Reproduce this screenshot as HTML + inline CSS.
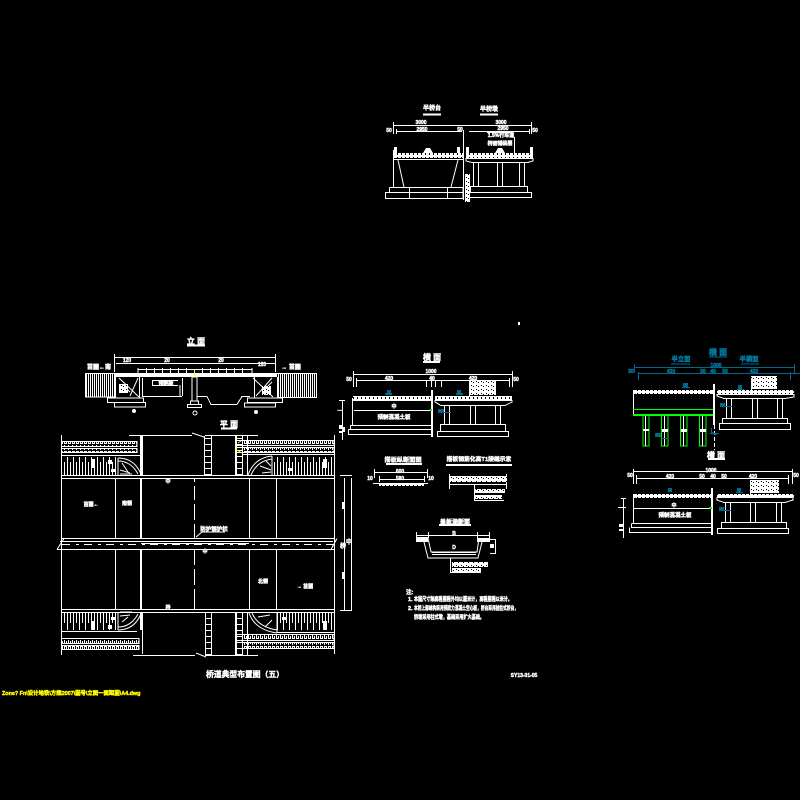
<!DOCTYPE html>
<html><head><meta charset="utf-8"><title>桥梁典型布置图（五）</title>
<style>
html,body{margin:0;padding:0;background:#000}
svg{display:block}
text{font-family:"Liberation Sans","Noto Sans CJK SC",sans-serif;font-weight:700;fill:#fff;stroke:#fff;stroke-width:.4;text-anchor:middle}
.l{fill:none;stroke:#fff;stroke-width:1;shape-rendering:crispEdges}
.c{fill:none;stroke:#fff;stroke-width:1}
.h{stroke-width:2}
.b{fill:none;stroke:#00688b;stroke-width:1;shape-rendering:crispEdges}
.g{fill:none;stroke:#0f0;stroke-width:1;shape-rendering:crispEdges}
.y{fill:none;stroke:#ff0;stroke-width:1}
text.blue{fill:#00789e;stroke:#00789e}
text.yt{fill:#ff0;stroke:#ff0;text-anchor:start}
text.s{text-anchor:start}
</style></head><body>
<svg width="800" height="800" viewBox="0 0 800 800" xmlns="http://www.w3.org/2000/svg">
<defs>
<pattern id="deck" width="4" height="4" patternUnits="userSpaceOnUse"><rect width="4" height="4" fill="#fff"/><rect x="1" y="1" width="1" height="2" fill="#000"/></pattern>
<pattern id="mA" width="4" height="5" patternUnits="userSpaceOnUse"><path d="M.5 0V3.5H2.5V1" stroke="#fff" fill="none" shape-rendering="crispEdges"/></pattern>
<pattern id="mB" width="4" height="5" patternUnits="userSpaceOnUse"><path d="M.5 5V1.5H2.5V4" stroke="#fff" fill="none" shape-rendering="crispEdges"/></pattern>
<pattern id="rail" width="6" height="19" patternUnits="userSpaceOnUse"><path d="M1.5 0V19M4.5 6V19" stroke="#fff" fill="none" shape-rendering="crispEdges"/></pattern>
<pattern id="railb" width="6" height="18" patternUnits="userSpaceOnUse"><path d="M1.5 0V18M4.5 0V11" stroke="#fff" fill="none" shape-rendering="crispEdges"/></pattern>
<pattern id="wing" width="2" height="10" patternUnits="userSpaceOnUse"><rect width="1" height="10" fill="#fff"/></pattern>
<pattern id="lad" width="8" height="6" patternUnits="userSpaceOnUse"><path d="M0 .5H8M4.5 0V6" stroke="#fff" fill="none" shape-rendering="crispEdges"/></pattern>
<pattern id="speck" width="5" height="4" patternUnits="userSpaceOnUse"><rect width="5" height="4" fill="#fff"/><rect x="1" y="1" width="1" height="1" fill="#000"/><rect x="3" y="2" width="1" height="1" fill="#000"/></pattern>
</defs>
<rect width="800" height="800" fill="#000"/>

<!-- TOP SECTION -->
<text x="432" y="110" font-size="6">半桥台</text>
<text x="489" y="111" font-size="6">半桥墩</text>
<path class="l h" d="M423 114.500H441M480 114.500H498"/>
<path class="l" d="M393.500 122V134M531.500 122V134M394 125.500H531M396.500 129V134M529.500 129V134M396 131.500H462M469 131.500H529"/>
<text x="421" y="124" font-size="5">3000</text><text x="501" y="124" font-size="5">3000</text>
<text x="422" y="131" font-size="5">2950</text><text x="503" y="130" font-size="5">2950</text>
<text x="389" y="132" font-size="5">50</text><text x="535" y="132" font-size="5">50</text>
<text x="460" y="131" font-size="5">50</text>
<rect x="394" y="153" width="69" height="5" fill="url(#deck)"/>
<rect x="466" y="153" width="67" height="5" fill="url(#deck)"/>
<path class="l" d="M393.500 150V187M394 159.500H463M463.500 130V200"/>
<path class="c" d="M398 160L404 187M458 160L451 187"/>
<path class="l" d="M389.500 187.500H463V192M389.500 187.500V192M385.500 192.500H463V198.500H385.500ZM409.500 187V198M447.500 187V198"/>
<path class="l" d="M466 158.500H533V161L528 162.500H472L466 161Z"/>
<path class="l" d="M473.500 162V187M478.500 162V187M497.500 162V187M502.500 162V187M519.500 162V187M524.500 162V187"/>
<path class="l" d="M470.500 186.500H527.500V192.500H470.500ZM467.500 192.500H531.500V197.500H467.500Z"/>
<rect x="465" y="174" width="5" height="28" fill="url(#speck)"/>
<rect x="394" y="147" width="3" height="6" fill="#fff"/><rect x="457" y="147" width="3" height="6" fill="#fff"/>
<rect x="466" y="147" width="3" height="6" fill="#fff"/><rect x="530" y="147" width="3" height="6" fill="#fff"/>
<path fill="#fff" d="M423 153L426 148H430L433 153ZM495 153L498 148H502L505 153Z"/>
<rect x="487" y="132" width="26" height="1" fill="#fff"/>
<text x="501" y="137" font-size="5">1.5%行车道</text>
<text x="500" y="145" font-size="5">桥面铺装层</text>
<path class="l" d="M514.500 137V153"/>

<!-- ELEVATION -->
<text x="196" y="344" font-size="8">立 面</text>
<path class="l h" d="M187 345.500H205"/>
<path class="l" d="M114.500 354V372M275.500 354V372M114 357.500H276M116 363.500H275"/>
<text x="127" y="362" font-size="5">120</text><text x="167" y="362" font-size="5">20</text><text x="221" y="362" font-size="5">20</text><text x="262" y="366" font-size="5">120</text>
<text x="99" y="369" font-size="6">苗圃←南</text><text x="291" y="369" font-size="6">→ 苗圃</text>
<rect x="85" y="373" width="30" height="24" fill="url(#wing)"/>
<rect x="277" y="373" width="40" height="24" fill="url(#wing)"/>
<path class="l" d="M85.500 373.500H115V397H85.500ZM277 373.500H316.500V397.500H277"/>
<rect x="115" y="373" width="162" height="4" fill="#fff"/>
<path class="l" d="M138 369.500H252M138 368V373M252 368V373"/>
<path class="l" d="M146.500 368V373M154.500 368V373M162.500 368V373M170.500 368V373M178.500 368V373M186.500 368V373M202.500 368V373M210.500 368V373M218.500 368V373M226.500 368V373M234.500 368V373M242.500 368V373"/>
<path class="y" d="M194.500 370V377" stroke-width="2"/>
<path class="l" d="M115.500 377V398M139.500 377V398M254.500 377V398M277.500 377V398"/>
<path class="c" d="M119 378L139 397M138 378L130 396M253 378L273 397M272 378L256 396M122 384L130 392M262 392L272 382"/>
<rect x="119" y="384" width="9" height="9" fill="url(#speck)"/><rect x="262" y="386" width="9" height="9" fill="url(#speck)"/>
<path class="l" d="M107.500 398H143.500V402.500H107.500ZM114.500 402.500H145.500V407H114.500ZM247.500 398H282.500V402.500H247.500ZM244.500 403H275.500V407H244.500Z"/>
<path class="l" d="M142.500 378V396M142 396.500H182M182.500 378V396M152 380.500H178M152 385.500H178M152.500 381V385M180 385V396"/>
<text x="166" y="385" font-size="5">预制板</text>
<rect x="192" y="377" width="5" height="24" fill="none" stroke="#fff"/>
<path class="l" d="M190.500 401V404.500H198.500V401ZM187.500 404.500H201.500V407.500H187.500Z"/>
<path class="l" d="M197 396.500H207L211 404.500H237L242 396.500H250"/>
<circle class="c" cx="195" cy="413" r="2"/><circle cx="134" cy="411" r="2" fill="#fff"/><circle cx="256" cy="412" r="2" fill="#fff"/>

<!-- PLAN -->
<text x="229" y="427" font-size="8">平 面</text>
<path class="l h" d="M221 428.500H237"/>
<path class="l" d="M61.500 435V655M334.500 435V654M129 435.500H192M205 435.500H258"/>
<path class="l" d="M61 475.500H334M61 478.500H334M61 538.500H334M61 549.500H334M61 609.500H334M61 612.500H334"/>
<path class="l" d="M115.500 478V538M115.500 549V609M249.500 478V538M249.500 549V609M276.500 478V538M276.500 549V609"/>
<path class="l h" d="M141 435V475M141 478V538M141 549V609M141 612V630"/>
<path class="l" d="M194.500 478V482M194.500 486V500M194.500 504V520M194.500 524V538M194.500 549V565M194.500 569V585M194.500 589V609"/>
<path class="l" d="M142.500 436V475M142.500 612V654M247.500 436V475M247.500 612V655"/>
<path class="l" d="M64 538.500L57 549.500M337 538.500L331 549.500"/>
<path class="l" d="M60 541.500H333M57 549.500H61"/>
<path stroke="#fff" fill="none" stroke-dasharray="8 6 3 5" d="M62 544.500H334" shape-rendering="crispEdges"/>
<path class="l" d="M141 543.500H249"/>
<path class="c" d="M196 537L202 532H225"/>
<text x="214" y="531" font-size="5.500">防护钢护栏</text>
<text x="205" y="553" font-size="5">中</text>
<text x="91" y="506" font-size="5">苗圃←</text><text x="127" y="505" font-size="5">南侧</text>
<text x="263" y="583" font-size="5">北侧</text><text x="305" y="588" font-size="5">→ 苗圃</text>
<text x="168" y="609" font-size="5">桥</text><text x="168" y="483" font-size="5">中</text>
<rect x="62" y="441" width="75" height="5" fill="url(#mA)"/>
<rect x="62" y="448" width="75" height="5" fill="url(#mB)"/>
<path class="l" d="M62 441.500H137V446.500H62M62 448.500H137V452.500H62M61 455.500H141"/>
<rect x="62" y="457" width="56" height="18" fill="url(#rail)"/>
<path class="c" d="M118 458Q134 458 141 474M118 461Q131 461 138 474M118 458V475"/>
<path class="c" d="M120 470L130 473M122 463L128 472M120 474H132"/>
<rect x="91" y="459" width="4" height="9" fill="#fff"/><rect x="108" y="460" width="4" height="4" fill="#fff"/><rect x="111" y="469" width="5" height="3" fill="#fff"/>
<rect x="204" y="436" width="8" height="39" fill="url(#lad)"/>
<path class="l" d="M204.500 436V475M211.500 436V475M235.500 436V475M242.500 436V475"/>
<rect x="235" y="436" width="8" height="39" fill="url(#lad)"/>
<path class="c" d="M192 433L204 437"/>
<rect x="243" y="440" width="91" height="5" fill="url(#mA)"/>
<rect x="243" y="447" width="91" height="5" fill="url(#mB)"/>
<path class="l" d="M235 440.500H334V445.500H235M235 447.500H334V452.500H235M242 454.500H334"/>
<path class="y" d="M235 449L242 453M238 443L241 441" stroke-width="1.500"/>
<rect x="272" y="457" width="62" height="18" fill="url(#rail)"/>
<path class="c" d="M248 475Q254 458 272 456M251 475Q257 461 272 459M272 456V475"/>
<path class="c" d="M271 470L260 466M271 472L262 473M271 466L266 461"/>
<rect x="323" y="459" width="4" height="9" fill="#fff"/><rect x="288" y="468" width="4" height="3" fill="#fff"/>
<rect x="62" y="613" width="56" height="17" fill="url(#railb)"/>
<path class="l" d="M61 631.500H103M103 631.500H137"/>
<rect x="62" y="638" width="77" height="5" fill="url(#mA)"/>
<rect x="62" y="645" width="77" height="5" fill="url(#mB)"/>
<path class="l" d="M62 638.500H139V643.500H62M62 645.500H139V649.500H62"/>
<path class="c" d="M118 630Q134 630 141 614M118 627Q131 627 138 614M118 613V630"/>
<path class="c" d="M120 616L130 615M122 622L128 617M120 612H132"/>
<rect x="91" y="621" width="4" height="9" fill="#fff"/><rect x="108" y="625" width="4" height="4" fill="#fff"/><rect x="111" y="617" width="5" height="3" fill="#fff"/>
<rect x="205" y="613" width="7" height="42" fill="url(#lad)"/>
<rect x="235" y="613" width="8" height="42" fill="url(#lad)"/>
<path class="l" d="M205.500 613V655M211.500 613V655M235.500 613V655M242.500 613V655M133 655.500H195M205 655.500H258"/>
<path class="c" d="M196 653L206 657"/>
<rect x="277" y="613" width="57" height="17" fill="url(#railb)"/>
<path class="l" d="M277 632.500H334"/>
<rect x="243" y="635" width="91" height="5" fill="url(#mA)"/>
<rect x="243" y="643" width="91" height="5" fill="url(#mB)"/>
<path class="l" d="M235 634.500H334V640.500H235M235 642.500H334V648.500H235"/>
<path class="c" d="M249 613Q255 630 277 633M252 613Q258 627 277 630M277 613V633"/>
<path class="c" d="M270 615L258 617M272 620L265 627"/>
<rect x="323" y="621" width="4" height="9" fill="#fff"/><rect x="282" y="617" width="4" height="3" fill="#fff"/>
<path class="l" d="M344.500 478V611M351.500 478V611M340 475.500H352M340 610.500H352M342.500 400V440"/>
<text x="343" y="548" font-size="6">桥</text><text x="349" y="544" font-size="6">中</text>
<rect x="342" y="502" width="3" height="7" fill="#fff"/><rect x="342" y="572" width="3" height="7" fill="#fff"/>
<rect x="343" y="427" width="2" height="5" fill="#fff"/><text x="340" y="412" font-size="5">—</text>
<text x="245" y="677" font-size="7.800" stroke-width=".5">桥道典型布置图（五）</text>
<text x="524" y="677" font-size="5">SY13-01-05</text>
<text class="yt" x="2" y="695" font-size="5.400">Zone? Fn\设计地铁\方案2007\图号\立面一面距图\A4.dwg</text>
<rect x="518" y="322" width="2" height="3" fill="#fff"/>

<!-- SECTION MID -->
<text x="432" y="360" font-size="8">横 面</text>
<path class="l h" d="M423 362H440"/>
<path class="l" d="M353.500 371V387M512.500 371V387M353 374.500H513M356.500 378V387M509.500 378V387M356 380.500H509"/>
<text x="431" y="373" font-size="5">1000</text><text x="389" y="380" font-size="5">420</text><text x="473" y="380" font-size="5">420</text><text x="432" y="380" font-size="5">40</text>
<text x="349" y="381" font-size="5">50</text><text x="516" y="381" font-size="5">50</text>
<path class="l" d="M426.500 381V387M435.500 381V387M441.500 381V387M431.500 381V387"/>
<rect x="353" y="396" width="79" height="5" fill="url(#deck)"/>
<rect x="435" y="396" width="77" height="4" fill="url(#deck)"/>
<path class="l" d="M352.500 398V426M354 410.500H431M350.500 425V429M350 425.500H432M348.500 429.500H432M348.500 429.500V434.500H432"/>
<path class="l h" d="M432 390V437"/>
<path class="l" d="M435 400.500H512V402L505 405.500H441L435 402Z"/>
<path class="l" d="M444.500 405V424M449.500 405V424M470.500 405V424M475.500 405V424M495.500 405V424M500.500 405V424"/>
<path class="l" d="M440.500 424.500H505.500V431.500H440.500ZM437.500 431.500H508.500V436.500H437.500Z"/>
<rect x="430" y="409" width="2" height="2" fill="#0f0"/>
<path fill="#00688b" d="M387 390H391V393H392V395H385V393H387ZM457 390H461V393H463V395H456V393H457ZM438 409H444V413H438Z"/>
<path class="b" d="M444 412.500H451"/>
<text x="394" y="419" font-size="5.500">预制混凝土板</text><text x="394" y="408" font-size="5">中</text>
<rect x="469" y="380" width="27" height="15" fill="url(#speck)"/>
<path class="l" d="M469.500 386V396"/>
<path class="l" d="M342.500 400V440M339 400.500H345"/>
<rect x="339" y="425" width="4" height="4" fill="#fff"/><rect x="339" y="431" width="4" height="2" fill="#fff"/>
<text x="403" y="462" font-size="6.200" stroke-width=".6">搭板纵断面图</text>
<path class="l h" d="M386 464H422"/>
<text x="479" y="461" font-size="5.800" stroke-width=".6">搭板钢筋化高T1接缝示意</text>
<path class="l h" d="M446 465H512"/>
<path class="l" d="M374.500 469V478M427.500 469V478M374 472.500H428M379.500 476V482M424.500 476V482M379 479.500H424M373 483.500H428"/>
<rect x="379" y="484" width="45" height="2" fill="url(#deck)"/>
<text x="400" y="473" font-size="5">600</text><text x="400" y="480" font-size="5">580</text><text x="370" y="480" font-size="5">10</text><text x="431" y="480" font-size="5">10</text>
<path class="l" d="M449.500 474V489M506.500 474V489M449 476.500H507M449 484.500H507"/>
<rect x="449" y="477" width="58" height="5" fill="url(#speck)"/>
<path class="l" d="M474.500 484V500M474 500.500H504"/>
<rect x="475" y="489" width="30" height="4" fill="url(#speck)"/><rect x="475" y="495" width="27" height="4" fill="url(#speck)"/>

<!-- CHANNEL -->
<text x="455" y="524" font-size="6" stroke-width=".5">盖板涵断面</text>
<path class="l h" d="M439 525H471"/>
<path class="l" d="M416 535.500H489M416.500 532V542M489.500 532V542M428.500 532V538M477.500 532V538"/>
<rect x="416" y="537" width="12" height="5" fill="#fff"/><rect x="477" y="538" width="13" height="4" fill="#fff"/>
<path class="c" d="M424 542L428 558H478L482 542" stroke-width="2"/>
<path class="c" d="M428 538L431 552H477L479 538"/>
<path class="l" d="M432 552.500H476M432 554.500H476"/>
<text x="454" y="535" font-size="5">B</text><text x="454" y="549" font-size="5">D</text>
<path class="l" d="M450.500 558V573M450 572.500H481M490 539.500H496M495.500 539V553M490 553.500H496"/>
<rect x="490" y="544" width="4" height="4" fill="#fff"/>
<rect x="452" y="562" width="36" height="5" fill="url(#speck)"/><rect x="452" y="568" width="29" height="4" fill="url(#speck)"/>

<!-- NOTES -->
<text class="s" x="406" y="594" font-size="5.500">注:</text>
<text class="s" x="408" y="601" font-size="5.500">1.</text>
<text class="s" x="414" y="601" font-size="5.500" textLength="98" lengthAdjust="spacingAndGlyphs" stroke-width=".6">本图尺寸除高程里程外均以厘米计，高程里程以米计。</text>
<text class="s" x="408" y="610" font-size="5.500">2.</text>
<text class="s" x="414" y="610" font-size="5.500" textLength="104" lengthAdjust="spacingAndGlyphs" stroke-width=".6">本桥上部结构采用预应力混凝土空心板，桥台采用桩柱式桥台，</text>
<text class="s" x="414" y="619" font-size="5.500" textLength="70" lengthAdjust="spacingAndGlyphs" stroke-width=".6">桥墩采用柱式墩，基础采用扩大基础。</text>

<!-- RIGHT -->
<text class="blue" x="718" y="355" font-size="8">横 面</text>
<text class="blue" x="681" y="361" font-size="6.300">半立面</text>
<text class="blue" x="749" y="361" font-size="6.300">半横面</text>
<path class="b h" d="M709 357H727M671 364H690M741 364H759"/>
<path class="b" d="M634.500 364V373M794.500 364V373M634 367.500H795M638.500 372V380M790.500 372V380M638 373.500H800"/>
<text class="blue" x="716" y="367" font-size="5">1000</text><text class="blue" x="671" y="373" font-size="5">420</text><text class="blue" x="703" y="373" font-size="5">50</text><text class="blue" x="713" y="373" font-size="5">40</text><text class="blue" x="725" y="373" font-size="5">50</text><text class="blue" x="754" y="373" font-size="5">420</text><text class="blue" x="631" y="373" font-size="5">50</text>
<rect x="634" y="390" width="80" height="4" fill="url(#deck)"/>
<rect x="717" y="390" width="77" height="4" fill="url(#deck)"/>
<path class="l" d="M633.500 390V415"/>
<path class="g" d="M633 409.500H714"/>
<rect x="633" y="414" width="81" height="2" fill="#0f0"/>
<path class="g h" d="M643 415V446H649V415M661.500 415V446H668V415M680.500 415V446H687V415M699.500 415V446H706V415"/>
<path class="l" d="M645.500 416V446M664.500 416V446M683.500 416V446M702.500 416V446"/>
<rect x="643" y="429" width="6" height="2" fill="#fff"/><rect x="662" y="429" width="6" height="3" fill="#fff"/><rect x="681" y="429" width="6" height="3" fill="#fff"/><rect x="700" y="429" width="6" height="3" fill="#fff"/>
<path class="l h" d="M714 384V425"/>
<path stroke="#fff" fill="none" stroke-dasharray="4 2" d="M714.500 425V450" shape-rendering="crispEdges"/>
<path class="l" d="M717 394.500H794V397L785 398.500H724L717 396Z"/>
<path class="l" d="M726.500 398V418M731.500 398V418M752.500 398V418M757.500 398V418M777.500 398V418M782.500 398V418"/>
<path class="l" d="M722.500 418.500H787.500V423.500H722.500ZM719.500 423.500H790.500V429.500H719.500Z"/>
<rect x="751" y="376" width="26" height="13" fill="url(#speck)"/>
<path class="l" d="M751.500 379V390"/>
<path fill="#00688b" d="M683 383H688V387H690V388H682V387H683ZM738 385H742V389H744V390H737V389H738ZM720 403H725V407H720ZM655 433H661V437H655ZM711 428H712V432L716 433H720L716 435L711 434H708L711 433Z"/>
<path class="b" d="M661 438.500H668M725 406.500H732"/>
<text x="716" y="458" font-size="8">横 面</text>
<path class="l h" d="M708 459H725"/>
<path class="l" d="M633.500 469V484M792.500 469V484M634 471.500H793M636.500 475V484M788.500 475V484M636 478.500H788"/>
<text x="711" y="472" font-size="5">1000</text><text x="670" y="478" font-size="5">420</text><text x="702" y="478" font-size="5">50</text><text x="713" y="478" font-size="5">40</text><text x="724" y="478" font-size="5">50</text><text x="753" y="478" font-size="5">420</text><text x="630" y="477" font-size="5">50</text><text x="796" y="477" font-size="5">50</text>
<rect x="634" y="494" width="79" height="4" fill="url(#deck)"/>
<rect x="717" y="494" width="77" height="4" fill="url(#deck)"/>
<path class="l" d="M633.500 494V523M634 508.500H712M631.500 523.500H712M631.500 523.500V527.500H712M629.500 527.500V532.500H712"/>
<path class="l h" d="M712 488V535"/>
<rect x="709" y="507" width="3" height="2" fill="#0f0"/>
<path class="l" d="M717 497.500H793V500L785 502.500H724L717 500Z"/>
<path class="l" d="M725.500 502V522M730.500 502V522M750.500 502V522M755.500 502V522M776.500 502V522M781.500 502V522"/>
<path class="l" d="M721.500 522.500H786.500V528.500H721.500ZM717.500 528.500H788.500V533.500H717.500Z"/>
<rect x="750" y="480" width="29" height="13" fill="url(#speck)"/>
<path class="l" d="M750.500 483V494"/>
<text x="674" y="507" font-size="5">中</text><text x="675" y="517" font-size="5.500">预制混凝土板</text>
<path fill="#00688b" d="M668 488H672V492H668ZM737 488H741V492H743V493H736V492H737ZM719 507H724V511H719Z"/>
<path class="b" d="M724 510.500H731"/>
<path class="l" d="M623.500 498V538M621 498.500H626M618 507.500H626"/>
<rect x="619" y="524" width="5" height="3" fill="#fff"/><rect x="619" y="529" width="4" height="2" fill="#fff"/>
</svg>
</body></html>
